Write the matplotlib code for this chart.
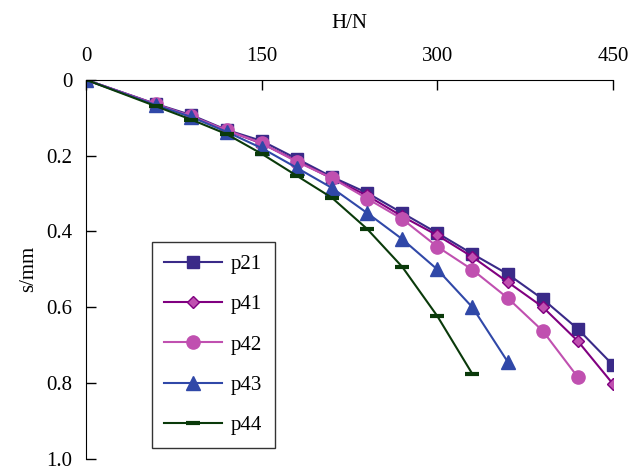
import matplotlib
matplotlib.use('Agg')
import matplotlib.pyplot as plt

# load H (N) and settlement s (mm)
load = [0, 60, 90, 120, 150, 180, 210, 240, 270, 300, 330, 360, 390, 420, 450]
p21 = [0, 0.064, 0.093, 0.132, 0.161, 0.208, 0.256, 0.298, 0.351, 0.404, 0.459, 0.512, 0.578, 0.657, 0.752]
p41 = [0, 0.065, 0.097, 0.133, 0.168, 0.214, 0.260, 0.305, 0.360, 0.410, 0.467, 0.533, 0.599, 0.689, 0.802]
p42 = [0, 0.065, 0.096, 0.133, 0.167, 0.216, 0.259, 0.313, 0.367, 0.440, 0.501, 0.575, 0.662, 0.784]
p43 = [0, 0.067, 0.098, 0.137, 0.180, 0.232, 0.285, 0.351, 0.420, 0.500, 0.600, 0.743]
p44 = [0, 0.070, 0.105, 0.143, 0.195, 0.253, 0.311, 0.393, 0.493, 0.623, 0.776]

series = [
    ('p21', p21, dict(color='#3a2a88', marker='s', markersize=9, mfc='#3a2a88', mec='#3a2a88')),
    ('p41', p41, dict(color='#800080', marker='D', markersize=6.5, mfc='#c050b0', mec='#800080')),
    ('p42', p42, dict(color='#c050b0', marker='o', markersize=9.5, mfc='#c050b0', mec='#c050b0')),
    ('p43', p43, dict(color='#3048a8', marker='^', markersize=9.5, mfc='#3048a8', mec='#3048a8')),
    ('p44', p44, dict(color='#0a3a0a', marker='_', markersize=10, mew=3, mec='#0a3a0a')),
]

plt.rcParams['font.family'] = ['Liberation Serif', 'DejaVu Serif']

fig = plt.figure(figsize=(6.28, 4.71), dpi=100)
ax = fig.add_axes([0.137, 0.0255, 0.839, 0.805])

for name, s, style in series:
    ax.plot(load[:len(s)], s, label=name, linewidth=1.5, **style)

ax.set_xlim(0, 450)
ax.set_ylim(1.0, 0)
ax.xaxis.tick_top()
ax.xaxis.set_label_position('top')
ax.set_xticks([0, 150, 300, 450])
ax.set_yticks([0, 0.2, 0.4, 0.6, 0.8, 1.0])
ax.set_yticklabels(['0', '0.2', '0.4', '0.6', '0.8', '1.0'])
ax.tick_params(direction='in', length=7, width=1, labelsize=15)
ax.tick_params(axis='x', pad=10)
ax.tick_params(axis='y', pad=10)
ax.spines['right'].set_visible(False)
ax.spines['bottom'].set_visible(False)
ax.set_xlabel('H/N', fontsize=15, labelpad=14)
ax.set_ylabel('s/mm', fontsize=15, labelpad=6)

leg = ax.legend(loc='upper left', bbox_to_anchor=(0.125, 0.573), borderaxespad=0,
                fontsize=15, handlelength=2.75, labelspacing=1.0, fancybox=False,
                edgecolor='black', borderpad=0.6, handletextpad=0.45)
leg.get_frame().set_linewidth(1)

fig.savefig('out.png', dpi=100)
